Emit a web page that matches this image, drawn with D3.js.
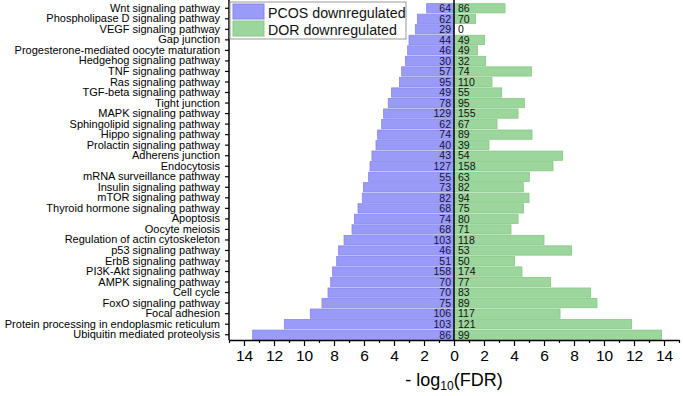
<!DOCTYPE html>
<html>
<head>
<meta charset="utf-8">
<script src="https://cdn.jsdelivr.net/npm/d3@7"></script>
<style>
  body { margin: 0; background: #fff; }
  svg { font-family: "Liberation Sans", Arial, sans-serif; }
</style>
</head>
<body>
<div id="chart"></div>
<script>
var pathways = ["Wnt signaling pathway", "Phospholipase D signaling pathway", "VEGF signaling pathway",
  "Gap junction", "Progesterone-mediated oocyte maturation", "Hedgehog signaling pathway",
  "TNF signaling pathway", "Ras signaling pathway", "TGF-beta signaling pathway", "Tight junction",
  "MAPK signaling pathway", "Sphingolipid signaling pathway", "Hippo signaling pathway",
  "Prolactin signaling pathway", "Adherens junction", "Endocytosis", "mRNA surveillance pathway",
  "Insulin signaling pathway", "mTOR signaling pathway", "Thyroid hormone signaling pathway",
  "Apoptosis", "Oocyte meiosis", "Regulation of actin cytoskeleton", "p53 signaling pathway",
  "ErbB signaling pathway", "PI3K-Akt signaling pathway", "AMPK signaling pathway", "Cell cycle",
  "FoxO signaling pathway", "Focal adhesion", "Protein processing in endoplasmic reticulum",
  "Ubiquitin mediated proteolysis"];

// -log10(FDR)
var pcosFdr = [1.82, 2.44, 2.58, 3.0, 3.09, 3.24, 3.49, 3.64, 4.16, 4.38, 4.69, 4.82, 5.09, 5.2,
  5.47, 5.6, 5.69, 6.04, 6.11, 6.4, 6.64, 6.8, 7.33, 7.69, 7.82, 8.09, 8.22, 8.4, 8.8, 9.58, 11.31, 13.42];
var dorFdr = [3.4, 1.44, 0, 2.04, 1.56, 2.11, 5.16, 2.53, 3.18, 4.69, 4.27, 2.87, 5.2, 2.33,
  7.24, 6.6, 5.02, 4.62, 5.0, 4.64, 4.27, 3.8, 6.0, 7.84, 4.04, 4.53, 6.44, 9.11, 9.53, 7.07, 11.84, 13.84];

// gene counts
var pcosCount = [64, 62, 29, 44, 46, 30, 57, 95, 49, 78, 129, 62, 74, 40, 43, 127, 55, 73, 82, 68,
  74, 68, 103, 46, 51, 158, 70, 70, 75, 106, 103, 86];
var dorCount = [86, 70, 0, 49, 49, 32, 74, 110, 55, 95, 155, 67, 89, 39, 54, 158, 63, 82, 94, 75,
  80, 71, 118, 53, 50, 174, 77, 83, 89, 117, 121, 99];

var xTicks = [-14, -12, -10, -8, -6, -4, -2, 0, 2, 4, 6, 8, 10, 12, 14];
var seriesNames = ["PCOS downregulated", "DOR downregulated"];

var width = 683, height = 396;
var plotLeft = 229, plotRight = 679, plotTop = 3, plotBottom = 340;

var svg = d3.select("#chart").append("svg")
    .attr("width", width)
    .attr("height", height);

var x = d3.scaleLinear().domain([-15, 15]).range([plotLeft, plotRight]);
var y = d3.scaleBand().domain(pathways).range([plotTop, plotBottom]).paddingInner(0.12).paddingOuter(0.06);

var rows = pathways.map(function(p, i){
    return {name: p, pcos: pcosFdr[i], dor: dorFdr[i], pc: pcosCount[i], dc: dorCount[i]};
});

// PCOS bars (left)
svg.selectAll(".pcos")
   .data(rows)
   .enter()
   .append("rect")
   .attr("class", "pcos")
   .attr("x", function(d){ return x(-d.pcos); })
   .attr("y", function(d){ return y(d.name); })
   .attr("width", function(d){ return x(0) - x(-d.pcos); })
   .attr("height", y.bandwidth())
   .style("fill", "#9a9af8")
   .style("stroke", "#8585ee")
   .style("stroke-width", 0.8);

// DOR bars (right)
svg.selectAll(".dor")
   .data(rows.filter(function(d){ return d.dor > 0; }))
   .enter()
   .append("rect")
   .attr("class", "dor")
   .attr("x", x(0))
   .attr("y", function(d){ return y(d.name); })
   .attr("width", function(d){ return x(d.dor) - x(0); })
   .attr("height", y.bandwidth())
   .style("fill", "#9cd69c")
   .style("stroke", "#84c984")
   .style("stroke-width", 0.8);

// count labels
svg.selectAll(".pcLabel")
   .data(rows)
   .enter()
   .append("text")
   .attr("x", x(0) - 3)
   .attr("y", function(d){ return y(d.name) + y.bandwidth() / 2; })
   .attr("dy", "0.36em")
   .attr("text-anchor", "end")
   .style("font-size", "10.5px")
   .style("fill", "#14143c")
   .text(function(d){ return d.pc; });

svg.selectAll(".dcLabel")
   .data(rows)
   .enter()
   .append("text")
   .attr("x", x(0) + 4)
   .attr("y", function(d){ return y(d.name) + y.bandwidth() / 2; })
   .attr("dy", "0.36em")
   .attr("text-anchor", "start")
   .style("font-size", "10.5px")
   .style("fill", "#111")
   .text(function(d){ return d.dc; });

// zero line
svg.append("line")
   .attr("x1", x(0)).attr("x2", x(0))
   .attr("y1", 0).attr("y2", plotBottom)
   .attr("stroke", "black")
   .attr("stroke-width", 1.5);

// left axis
var yAxis = svg.append("g")
   .attr("transform", "translate(" + plotLeft + ",0)")
   .call(d3.axisLeft(y).tickSize(4).tickPadding(5));
yAxis.select(".domain").attr("d", "M0,0V" + plotBottom).attr("stroke-width", 1.5);
yAxis.selectAll("line").attr("stroke-width", 1.2);
yAxis.selectAll("text")
   .style("font-size", "11px")
   .style("fill", "#000")
   .style("font-family", "'Liberation Sans', Arial, sans-serif");

// bottom axis (minor then major)
svg.append("g")
   .attr("transform", "translate(0," + plotBottom + ")")
   .call(d3.axisBottom(x).tickValues(d3.range(-15, 16, 2)).tickSize(3).tickFormat(""))
   .call(function(g){ g.select(".domain").remove(); })
   .selectAll("line").attr("stroke-width", 1.2);

var xAxis = svg.append("g")
   .attr("transform", "translate(0," + plotBottom + ")")
   .call(d3.axisBottom(x).tickValues(xTicks).tickSize(6).tickSizeOuter(0).tickPadding(4)
         .tickFormat(function(d){ return Math.abs(d); }));
xAxis.select(".domain").attr("stroke-width", 1.5);
xAxis.selectAll("line").attr("stroke-width", 1.2);
xAxis.selectAll("text")
   .style("font-size", "15.5px")
   .style("fill", "#000")
   .style("font-family", "'Liberation Sans', Arial, sans-serif");

// axis title
var title = svg.append("text")
   .attr("x", x(0))
   .attr("y", 386)
   .attr("text-anchor", "middle")
   .style("font-size", "18px")
   .style("fill", "#000");
title.append("tspan").text("- log");
title.append("tspan").attr("dy", 4).style("font-size", "12px").text("10");
title.append("tspan").attr("dy", -4).text("(FDR)");

// legend
var legend = svg.append("g").attr("transform", "translate(230,2)");
legend.append("rect")
   .attr("width", 176).attr("height", 37)
   .style("fill", "#fff")
   .style("stroke", "#999")
   .style("stroke-width", 1);
var legendColors = [["#9a9af8", "#8585ee"], ["#9cd69c", "#84c984"]];
seriesNames.forEach(function(name, i){
    legend.append("rect")
       .attr("x", 3).attr("y", 2 + i * 17)
       .attr("width", 31).attr("height", 15)
       .style("fill", legendColors[i][0])
       .style("stroke", legendColors[i][1]);
    legend.append("text")
       .attr("transform", "translate(38," + (10 + i * 17) + ") scale(0.93,1)")
       .attr("dy", "0.36em")
       .style("font-size", "15.3px")
       .style("fill", "#111")
       .text(name);
});
</script>
</body>
</html>
